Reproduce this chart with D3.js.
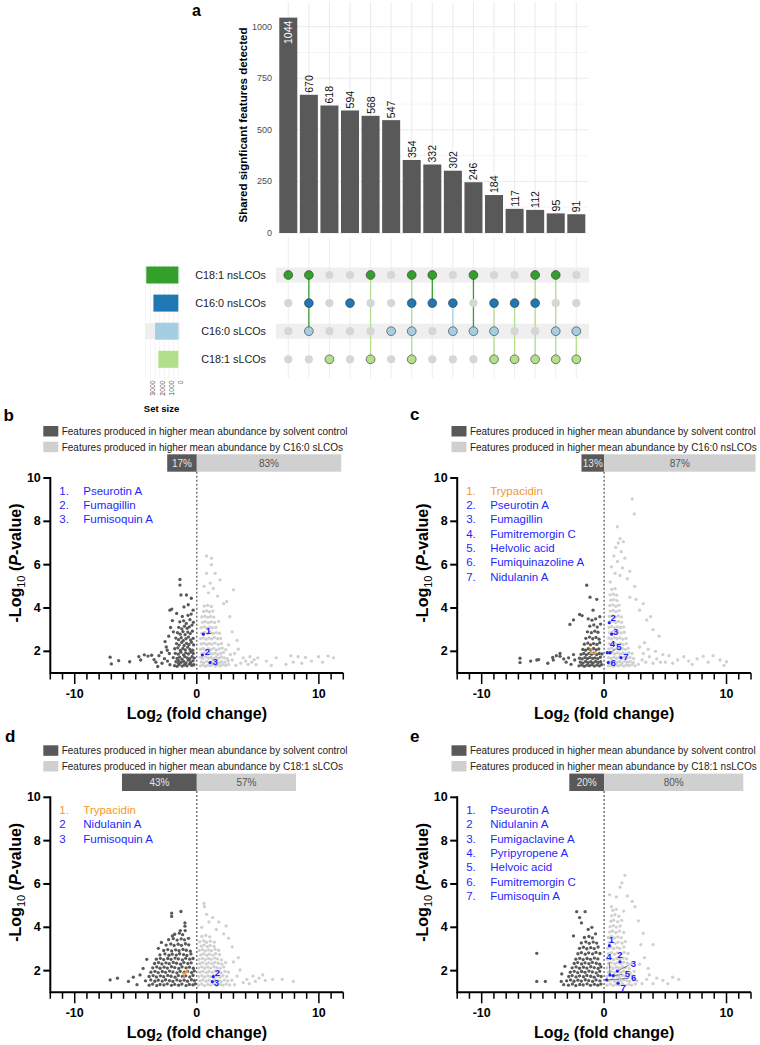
<!DOCTYPE html>
<html><head><meta charset="utf-8">
<script src="https://cdn.jsdelivr.net/npm/d3@7"></script>
<style>body{margin:0;background:#fff;} svg{display:block;font-family:Arial,"Liberation Sans",Helvetica,sans-serif;}</style>
</head><body><svg id="c" width="760" height="1045"></svg>
<script>
// ================= DATA =================
// Panel a (UpSet)
const intersectionSizes = [1044,670,618,594,568,547,354,332,302,246,184,117,112,95,91];
const setNames = ["C18:1 nsLCOs","C16:0 nsLCOs","C16:0 sLCOs","C18:1 sLCOs"];
const intersectionSets = [[0],[0,1,2],[3],[1],[0,3],[2],[0,1,2,3],[0,1],[1,2],[0,2],[1,2,3],[1,3],[0,1,3],[0,2,3],[2,3]];
const barTicks = [0,250,500,750,1000];
const setSizeTicks = [0,1000,2000,3000];

// Volcano panels: percentages
const bPct = [17,83], cPct = [13,87], dPct = [43,57], ePct = [20,80];
const treatments = ["C16:0 sLCOs","C16:0 nsLCOs","C18:1 sLCOs","C18:1 nsLCOs"];
const xTicksMajor = [-10,0,10];
const yTicks = [2,4,6,8,10];

// Annotated compounds: [number label, name, isTrypacidin, log2FC, -log10P]
const bAnnot = [["1.","Pseurotin A",0,0.54,2.79],["2.","Fumagillin",0,0.46,1.83],["3.","Fumisoquin A",0,1.09,1.48]];
const cAnnot = [["1.","Trypacidin",1,-0.74,1.94],["2.","Pseurotin A",0,0.42,3.32],["3.","Fumagillin",0,0.62,2.79],["4.","Fumitremorgin C",0,0.26,1.94],["5.","Helvolic acid",0,0.48,1.94],["6.","Fumiquinazoline A",0,0.34,1.48],["7.","Nidulanin A",0,1.38,1.71]];
const dAnnot = [["1.","Trypacidin",1,-0.83,1.95],["2","Nidulanin A",0,1.35,1.72],["3","Fumisoquin A",0,1.27,1.49]];
const eAnnot = [["1.","Pseurotin A",0,0.43,3.15],["2","Nidulanin A",0,1.3,2.41],["3.","Fumigaclavine A",0,1.08,1.98],["4.","Pyripyropene A",0,0.48,1.8],["5.","Helvoic acid",0,0.75,1.77],["6.","Fumitremorgin C",0,0.21,1.57],["7.","Fumisoquin A",0,1.14,1.42]];

// Feature points [log2FC, -log10P]
const bDark = [[-1.38,5.32],[-1.38,5.06],[-1.3,4.6],[-0.85,4.6],[-0.45,4.45],[-2.2,3.9],[-2.05,3.95],[-1.65,3.75],[-0.7,4.15],[-1.05,4.05],[-0.3,3.9],
[-7.1,1.73],[-7.0,1.42],[-6.4,1.57],[-5.5,1.52],[-4.75,1.76],[-4.6,1.6],[-4.3,1.84],[-4.0,1.78],[-3.7,1.82],[-3.5,1.62],[-3.1,1.8],[-3.35,1.5],[-3.2,1.3],[-2.85,1.45],[-2.65,1.66],[-2.9,1.95],
[-2.5,2.2],[-2.42,2.05],[-2.6,2.45],[-2.3,2.7],[-2.15,3.1],[-2.0,3.42],[-1.92,2.9],[-2.25,1.9],[-2.4,1.55],[-2.2,1.38],
[-1.82,1.34],[-1.61,1.31],[-1.43,1.39],[-1.2,1.32],[-1.02,1.37],[-0.81,1.33],[-0.6,1.41],[-0.41,1.35],[-0.24,1.38],[-1.5,1.44],[-0.95,1.43],[-0.5,1.45],
[-1.71,1.52],[-1.49,1.57],[-1.29,1.49],[-1.08,1.54],[-0.88,1.47],[-0.69,1.59],[-0.52,1.51],[-0.31,1.56],
[-1.93,1.71],[-1.62,1.67],[-1.41,1.73],[-1.21,1.64],[-0.99,1.76],[-0.79,1.7],[-0.58,1.66],[-0.39,1.75],[-0.21,1.69],
[-1.76,1.91],[-1.52,1.87],[-1.31,1.96],[-1.09,1.84],[-0.91,1.93],[-0.69,1.88],[-0.49,1.97],[-0.29,1.9],
[-1.81,2.12],[-1.56,2.16],[-1.34,2.04],[-1.14,2.13],[-0.94,2.07],[-0.74,2.19],[-0.56,2.09],[-0.33,2.05],
[-1.66,2.36],[-1.44,2.29],[-1.24,2.41],[-1.04,2.27],[-0.84,2.37],[-0.64,2.31],[-0.44,2.42],[-0.26,2.3],
[-1.72,2.61],[-1.49,2.54],[-1.28,2.63],[-1.11,2.49],[-0.89,2.58],[-0.68,2.66],[-0.51,2.52],[-0.3,2.6],
[-1.58,2.86],[-1.36,2.79],[-1.13,2.91],[-0.96,2.77],[-0.74,2.89],[-0.54,2.82],[-0.36,2.93],
[-1.48,3.11],[-1.23,3.04],[-1.01,3.16],[-0.79,3.06],[-0.61,3.13],[-0.39,3.21],
[-1.39,3.36],[-1.08,3.41],[-0.86,3.29],[-0.56,3.46],[-0.28,3.34],
[-1.19,3.61],[-0.72,3.66],[-0.46,3.72]];
const bLight = [[0.8,6.4],[1.2,6.3],[1.2,6.0],[0.8,5.6],[1.5,5.6],[1.1,5.15],[3.0,4.84],[1.9,5.3],[2.45,4.3],[2.2,4.2],[0.6,5.0],[1.35,4.9],[0.95,4.7],[1.7,4.55],[2.7,3.6],[3.3,2.5],[2.9,2.9],
[3.6,1.45],[3.8,1.7],[4.0,1.55],[4.2,1.4],[4.35,1.75],[4.5,1.5],[4.7,1.62],[4.85,1.38],[5.0,1.7],[5.7,1.55],[6.5,1.7],[7.7,1.8],[7.9,1.5],[8.3,1.75],[8.6,1.45],[8.9,1.72],[9.97,1.75],[10.3,1.5],[10.75,1.78],[11.2,1.7],[9.4,1.55],[7.3,1.4],[6.1,1.35],
[3.1,1.9],[3.4,2.1],[2.9,1.6],[3.2,1.35],[2.6,2.3],[2.75,1.85],
[0.3,1.33],[0.52,1.37],[0.71,1.31],[0.9,1.36],[1.12,1.34],[1.31,1.39],[1.52,1.32],[1.69,1.37],[1.92,1.33],[2.11,1.38],[2.36,1.35],[2.6,1.4],
[0.36,1.51],[0.56,1.47],[0.79,1.54],[1.01,1.49],[1.21,1.53],[1.44,1.46],[1.66,1.55],[1.86,1.48],[2.04,1.52],[2.31,1.5],[2.58,1.56],
[0.29,1.71],[0.49,1.67],[0.74,1.74],[0.96,1.69],[1.16,1.72],[1.36,1.66],[1.59,1.73],[1.81,1.68],[2.01,1.75],[2.24,1.7],[2.49,1.66],
[0.41,1.89],[0.62,1.93],[0.84,1.87],[1.06,1.94],[1.26,1.88],[1.49,1.92],[1.71,1.86],[1.94,1.91],[2.19,1.95],
[0.31,2.09],[0.51,2.13],[0.72,2.07],[0.94,2.12],[1.16,2.08],[1.39,2.14],[1.61,2.06],[1.84,2.11],[2.09,2.15],[2.38,2.08],
[0.36,2.34],[0.59,2.37],[0.81,2.31],[1.01,2.36],[1.24,2.33],[1.49,2.38],[1.76,2.32],[2.02,2.36],
[0.31,2.59],[0.54,2.62],[0.76,2.56],[0.99,2.61],[1.21,2.57],[1.44,2.63],[1.71,2.58],[1.96,2.6],
[0.41,2.84],[0.66,2.87],[0.89,2.82],[1.11,2.88],[1.34,2.83],[1.59,2.86],[1.86,2.84],
[0.36,3.09],[0.61,3.13],[0.84,3.07],[1.06,3.12],[1.29,3.08],[1.56,3.11],
[0.46,3.34],[0.69,3.37],[0.94,3.32],[1.19,3.36],[1.46,3.33],[1.79,3.38],
[0.41,3.59],[0.66,3.62],[0.91,3.57],[1.14,3.61],[1.39,3.58],
[0.56,3.84],[0.81,3.87],[1.04,3.82],[1.31,3.86],
[0.61,4.09],[0.89,4.12],[1.19,4.07]];
const cDark = [[-1.42,5.05],[-1.15,4.5],[-0.6,4.4],[-2.0,3.7],[-2.79,3.24],[-2.5,3.45],[-1.8,3.65],[-0.9,3.9],[-0.35,3.6],[-1.3,3.5],
[-6.87,1.68],[-6.87,1.48],[-6.0,1.55],[-5.5,1.6],[-5.35,1.62],[-4.6,1.45],[-4.15,1.6],[-4.2,1.72],[-3.9,1.8],[-3.6,1.9],[-3.6,1.77],[-3.3,1.65],[-3.1,1.5],[-2.9,1.7],[-2.7,1.4],[-2.5,1.85],[-2.4,1.6],
[-2.05,1.33],[-1.83,1.37],[-1.62,1.31],[-1.41,1.36],[-1.2,1.34],[-0.99,1.38],[-0.79,1.32],[-0.58,1.37],[-0.38,1.33],[-0.2,1.39],
[-1.94,1.5],[-1.72,1.46],[-1.51,1.53],[-1.31,1.48],[-1.09,1.52],[-0.89,1.47],[-0.69,1.54],[-0.48,1.49],[-0.28,1.52],
[-2.01,1.68],[-1.79,1.65],[-1.57,1.71],[-1.36,1.66],[-1.16,1.72],[-0.94,1.67],[-0.74,1.7],[-0.52,1.66],[-0.31,1.73],
[-1.88,1.86],[-1.66,1.9],[-1.45,1.84],[-1.24,1.91],[-1.03,1.86],[-0.83,1.92],[-0.61,1.85],[-0.4,1.9],[-0.18,1.88],
[-1.74,2.09],[-1.52,2.05],[-1.29,2.12],[-1.08,2.06],[-0.86,2.13],[-0.64,2.07],[-0.43,2.11],
[-1.61,2.33],[-1.33,2.38],[-1.11,2.3],[-0.86,2.36],[-0.59,2.32],[-0.36,2.4],
[-1.49,2.6],[-1.19,2.66],[-0.93,2.58],[-0.66,2.64],[-0.41,2.56],
[-1.36,2.9],[-1.04,2.86],[-0.76,2.93],[-0.5,2.88],
[-1.17,3.16],[-0.84,3.22],[-0.56,3.12],[-0.29,3.26],
[-0.99,3.44],[-0.69,3.5]];
const cLight = [[2.3,9.03],[2.47,8.34],[1.08,7.75],[1.3,7.2],[1.16,7.0],[1.57,7.06],[0.95,6.8],[1.4,6.6],[0.8,6.4],[1.7,6.3],[1.1,6.15],[0.6,5.9],[1.5,5.85],[2.1,5.7],[0.9,5.6],[1.3,5.5],[1.9,5.35],[0.5,5.2],[2.5,5.0],[2.9,3.9],[3.48,3.45],[4.0,3.0],[4.5,2.7],[2.1,4.5],[3.2,4.2],[2.6,4.4],[3.8,3.6],
[5.0,1.5],[5.3,1.8],[5.6,1.45],[6.0,1.6],[6.5,1.75],[6.9,1.55],[7.2,1.4],[8.1,1.77],[8.5,1.5],[8.9,1.8],[9.47,1.6],[10.0,1.52],[9.8,1.35],[7.6,1.65],
[2.8,1.4],[3.1,1.6],[3.4,1.5],[3.7,1.75],[4.0,1.45],[4.3,1.65],[4.6,1.5],[3.2,1.9],[3.6,2.1],[2.9,2.2],[3.3,2.4],[4.2,2.0],[4.8,1.85],
[0.36,1.34],[0.57,1.37],[0.78,1.31],[0.99,1.36],[1.2,1.33],[1.41,1.38],[1.62,1.32],[1.83,1.37],[2.04,1.34],[2.27,1.39],[2.52,1.33],
[0.41,1.52],[0.62,1.48],[0.84,1.54],[1.05,1.49],[1.26,1.53],[1.47,1.47],[1.69,1.55],[1.9,1.5],[2.13,1.53],[2.39,1.48],
[0.37,1.71],[0.59,1.67],[0.8,1.73],[1.01,1.68],[1.23,1.72],[1.44,1.66],[1.66,1.74],[1.88,1.69],[2.11,1.72],[2.4,1.67],
[0.44,1.9],[0.66,1.94],[0.88,1.88],[1.09,1.93],[1.31,1.87],[1.53,1.92],[1.76,1.89],[2.0,1.94],[2.28,1.9],
[0.39,2.11],[0.61,2.15],[0.83,2.08],[1.05,2.13],[1.27,2.07],[1.5,2.12],[1.73,2.09],[1.98,2.14],
[0.42,2.36],[0.65,2.32],[0.87,2.38],[1.1,2.33],[1.33,2.37],[1.57,2.31],[1.82,2.36],
[0.38,2.61],[0.6,2.57],[0.83,2.63],[1.06,2.58],[1.29,2.62],[1.53,2.56],[1.8,2.6],
[0.45,2.86],[0.68,2.9],[0.91,2.84],[1.14,2.89],[1.38,2.85],[1.64,2.88],
[0.41,3.11],[0.64,3.14],[0.87,3.08],[1.1,3.13],[1.34,3.09],[1.6,3.12],
[0.47,3.36],[0.7,3.39],[0.94,3.33],[1.18,3.38],[1.44,3.34],
[0.43,3.61],[0.67,3.64],[0.91,3.58],[1.15,3.63],[1.41,3.59],
[0.5,3.86],[0.74,3.89],[0.98,3.83],[1.24,3.88],
[0.46,4.11],[0.71,4.14],[0.96,4.08],[1.22,4.13],
[0.55,4.36],[0.8,4.39],[1.06,4.34],
[0.49,4.61],[0.76,4.64],[1.02,4.59],
[0.62,4.86],[0.9,4.89]];
const dDark = [[-2.06,4.65],[-2.06,4.5],[-1.3,4.73],[-0.97,4.2],[-0.97,4.05],[-0.95,3.85],[-1.35,3.85],[-4.1,2.52],[-4.65,1.8],[-7.1,1.57],[-6.5,1.65],[-5.6,1.5],[-4.9,1.35],[-3.15,3.03],[-2.0,3.6],[-2.9,3.3],[-5.2,1.7],[-4.4,2.1],
[-3.9,1.33],[-3.62,1.38],[-3.28,1.31],[-3.01,1.36],[-2.69,1.34],[-2.42,1.39],[-2.08,1.32],[-1.81,1.37],[-1.49,1.33],[-1.22,1.38],[-0.88,1.31],[-0.61,1.36],[-0.32,1.34],[-0.12,1.39],
[-4.2,1.53],[-3.77,1.57],[-3.44,1.51],[-3.16,1.56],[-2.83,1.52],[-2.56,1.58],[-2.24,1.54],[-1.96,1.5],[-1.63,1.57],[-1.36,1.53],[-1.04,1.56],[-0.76,1.51],[-0.44,1.58],[-0.19,1.54],
[-3.91,1.73],[-3.58,1.77],[-3.31,1.71],[-2.98,1.76],[-2.71,1.72],[-2.38,1.78],[-2.11,1.74],[-1.78,1.7],[-1.51,1.77],[-1.18,1.73],[-0.91,1.76],[-0.58,1.71],[-0.31,1.78],
[-3.76,1.93],[-3.43,1.97],[-3.16,1.91],[-2.83,1.96],[-2.56,1.92],[-2.23,1.98],[-1.96,1.94],[-1.63,1.9],[-1.36,1.97],[-1.03,1.93],[-0.76,1.96],[-0.43,1.91],[-0.21,1.98],
[-3.61,2.13],[-3.28,2.17],[-3.01,2.11],[-2.68,2.16],[-2.41,2.12],[-2.08,2.18],[-1.81,2.14],[-1.48,2.1],[-1.21,2.17],[-0.88,2.13],[-0.61,2.16],[-0.28,2.11],
[-3.46,2.33],[-3.13,2.37],[-2.86,2.31],[-2.53,2.36],[-2.26,2.32],[-1.93,2.38],[-1.66,2.34],[-1.33,2.3],[-1.06,2.37],[-0.73,2.33],[-0.46,2.36],
[-3.31,2.53],[-2.98,2.57],[-2.71,2.51],[-2.38,2.56],[-2.11,2.52],[-1.78,2.58],[-1.51,2.54],[-1.18,2.5],[-0.91,2.57],[-0.58,2.53],[-0.31,2.56],
[-3.02,2.73],[-2.61,2.77],[-2.28,2.71],[-2.01,2.76],[-1.68,2.72],[-1.41,2.78],[-1.08,2.74],[-0.81,2.7],[-0.48,2.77],
[-2.71,2.93],[-2.38,2.97],[-2.06,2.91],[-1.73,2.96],[-1.46,2.92],[-1.13,2.98],[-0.86,2.94],[-0.53,2.9],
[-2.51,3.18],[-2.13,3.23],[-1.86,3.16],[-1.53,3.22],[-1.26,3.17],[-0.93,3.24],[-0.66,3.19],
[-2.31,3.43],[-1.93,3.48],[-1.61,3.41],[-1.28,3.47],[-1.01,3.42],[-0.68,3.49],
[-1.81,3.68],[-1.43,3.73],[-1.16,3.66]];
const dLight = [[0.59,5.1],[0.62,4.95],[0.8,4.6],[1.0,4.25],[1.8,4.25],[1.6,3.9],[2.4,4.06],[2.9,3.1],[2.6,3.5],[0.4,4.0],[1.3,4.45],[2.2,3.7],
[3.54,2.03],[3.3,1.75],[3.8,1.45],[4.1,1.6],[4.3,1.4],[4.6,1.75],[4.8,1.5],[5.1,1.65],[5.4,1.8],[5.6,1.55],[6.2,1.6],[7.0,1.6],[7.9,1.5],[3.1,1.35],[3.0,2.4],[3.4,2.6],
[0.15,1.33],[0.41,1.38],[0.64,1.31],[0.91,1.36],[1.14,1.34],[1.41,1.39],[1.64,1.32],[1.91,1.37],[2.14,1.33],[2.41,1.38],[2.69,1.34],
[0.26,1.53],[0.49,1.57],[0.76,1.51],[0.99,1.56],[1.26,1.52],[1.49,1.58],[1.76,1.54],[1.99,1.5],[2.26,1.57],[2.54,1.53],[2.86,1.56],
[0.14,1.73],[0.41,1.77],[0.64,1.71],[0.91,1.76],[1.14,1.72],[1.41,1.78],[1.64,1.74],[1.91,1.7],[2.14,1.77],[2.46,1.73],
[0.26,1.93],[0.49,1.97],[0.76,1.91],[0.99,1.96],[1.26,1.92],[1.49,1.98],[1.76,1.94],[1.99,1.9],[2.31,1.97],[2.59,1.93],
[0.14,2.13],[0.41,2.17],[0.64,2.11],[0.91,2.16],[1.14,2.12],[1.41,2.18],[1.64,2.14],[1.91,2.1],[2.21,2.17],
[0.26,2.33],[0.49,2.37],[0.76,2.31],[0.99,2.36],[1.26,2.32],[1.49,2.38],[1.76,2.34],[2.04,2.3],[2.36,2.37],
[0.19,2.53],[0.46,2.57],[0.69,2.51],[0.96,2.56],[1.19,2.52],[1.46,2.58],[1.69,2.54],[2.01,2.5],
[0.31,2.73],[0.54,2.77],[0.81,2.71],[1.04,2.76],[1.31,2.72],[1.54,2.78],[1.86,2.74],
[0.19,2.93],[0.46,2.97],[0.69,2.91],[0.96,2.96],[1.19,2.92],[1.51,2.98],[1.79,2.94],
[0.36,3.13],[0.59,3.18],[0.86,3.11],[1.09,3.16],[1.41,3.12],
[0.24,3.33],[0.56,3.38],[0.79,3.31],[1.11,3.36],[1.44,3.32],
[0.41,3.58],[0.74,3.63],[1.06,3.56]];
const eDark = [[-2.24,4.72],[-1.55,4.72],[-2.0,4.45],[-1.85,4.2],[-1.0,4.0],[-5.5,2.8],[-5.5,1.5],[-4.8,1.5],[-3.46,1.85],[-1.3,3.9],[-0.7,3.7],[-2.5,3.6],[-3.5,1.5],[-3.2,2.2],[-3.3,1.35],
[-2.91,1.33],[-2.59,1.38],[-2.31,1.31],[-1.99,1.36],[-1.71,1.34],[-1.39,1.39],[-1.11,1.32],[-0.79,1.37],[-0.51,1.33],[-0.26,1.38],
[-3.06,1.53],[-2.74,1.57],[-2.46,1.51],[-2.14,1.56],[-1.86,1.52],[-1.54,1.58],[-1.26,1.54],[-0.94,1.5],[-0.66,1.57],[-0.34,1.53],
[-2.89,1.73],[-2.61,1.77],[-2.29,1.71],[-2.01,1.76],[-1.69,1.72],[-1.41,1.78],[-1.09,1.74],[-0.81,1.7],[-0.49,1.77],[-0.24,1.73],
[-2.76,1.93],[-2.44,1.97],[-2.16,1.91],[-1.84,1.96],[-1.56,1.92],[-1.24,1.98],[-0.96,1.94],[-0.64,1.9],[-0.36,1.97],
[-2.61,2.13],[-2.29,2.17],[-2.01,2.11],[-1.69,2.16],[-1.41,2.12],[-1.09,2.18],[-0.81,2.14],[-0.49,2.1],[-0.26,2.17],
[-2.44,2.33],[-2.16,2.37],[-1.84,2.31],[-1.56,2.36],[-1.24,2.32],[-0.96,2.38],[-0.64,2.34],[-0.36,2.3],
[-2.31,2.53],[-1.99,2.57],[-1.71,2.51],[-1.39,2.56],[-1.11,2.52],[-0.79,2.58],[-0.51,2.54],
[-2.14,2.78],[-1.86,2.83],[-1.54,2.76],[-1.26,2.82],[-0.94,2.77],[-0.66,2.84],[-0.34,2.79],
[-2.01,3.03],[-1.69,3.08],[-1.41,3.01],[-1.09,3.06],[-0.81,3.02],[-0.49,3.09],
[-1.86,3.28],[-1.49,3.33],[-1.21,3.26],[-0.89,3.32],[-0.61,3.27],
[-1.61,3.53],[-1.24,3.58],[-0.96,3.51]];
const eLight = [[1.7,6.4],[1.3,5.85],[1.0,5.4],[1.9,5.45],[2.52,4.95],[0.6,4.95],[1.6,4.75],[3.2,3.72],[4.0,3.2],[3.0,3.2],[2.3,5.2],[2.8,4.3],[0.45,5.5],[1.45,6.05],
[3.48,1.6],[3.1,1.4],[3.7,1.8],[4.3,1.65],[4.0,1.4],[4.8,1.55],[5.6,1.7],[6.1,1.6],[5.2,1.4],[2.9,2.3],[3.3,2.6],[3.6,2.1],
[0.24,1.33],[0.51,1.38],[0.74,1.31],[1.01,1.36],[1.24,1.34],[1.51,1.39],[1.74,1.32],[2.01,1.37],[2.24,1.33],[2.56,1.38],
[0.36,1.53],[0.59,1.57],[0.86,1.51],[1.09,1.56],[1.36,1.52],[1.59,1.58],[1.86,1.54],[2.09,1.5],[2.41,1.57],[2.69,1.53],
[0.24,1.73],[0.51,1.77],[0.74,1.71],[1.01,1.76],[1.24,1.72],[1.51,1.78],[1.74,1.74],[2.01,1.7],[2.29,1.77],
[0.36,1.93],[0.59,1.97],[0.86,1.91],[1.09,1.96],[1.36,1.92],[1.59,1.98],[1.86,1.94],[2.14,1.9],[2.46,1.97],
[0.24,2.13],[0.51,2.17],[0.74,2.11],[1.01,2.16],[1.24,2.12],[1.51,2.18],[1.74,2.14],[2.06,2.1],
[0.36,2.33],[0.59,2.37],[0.86,2.31],[1.09,2.36],[1.36,2.32],[1.59,2.38],[1.91,2.34],[2.19,2.3],
[0.29,2.53],[0.56,2.57],[0.79,2.51],[1.06,2.56],[1.29,2.52],[1.56,2.58],[1.84,2.54],
[0.36,2.78],[0.59,2.83],[0.86,2.76],[1.09,2.82],[1.36,2.77],[1.64,2.84],[1.96,2.79],
[0.29,3.03],[0.56,3.08],[0.79,3.01],[1.06,3.06],[1.29,3.02],[1.61,3.09],
[0.41,3.28],[0.64,3.33],[0.91,3.26],[1.14,3.32],[1.46,3.27],[1.74,3.34],
[0.34,3.53],[0.61,3.58],[0.84,3.51],[1.11,3.56],[1.39,3.52],
[0.46,3.78],[0.69,3.83],[0.96,3.76],[1.24,3.82],[1.61,3.77],
[0.49,4.03],[0.76,4.08],[0.99,4.01],[1.31,4.06],
[0.56,4.28],[0.79,4.33],[1.11,4.26],[1.44,4.32],
[0.61,4.53],[0.89,4.58],[1.21,4.51],
[0.71,4.78],[0.99,4.83]];

// ================= LAYOUT / STYLE =================
const svg = d3.select("#c");
const setColors = ["#33a02c","#1f78b4","#a6cee3","#b2df8a"];
const DARK = "#595959", LIGHT = "#d0d0d0", BLUE = "#1f1fff", ORANGE = "#f39a2b";

// ---------- Panel a: UpSet ----------
const setSizes = setNames.map((s,si)=> d3.sum(intersectionSizes.filter((v,i)=>intersectionSets[i].includes(si))));
const xb = d3.scaleBand().domain(d3.range(intersectionSizes.length)).range([278,586.6]).paddingInner(0.125).paddingOuter(0.0625);
const yb = d3.scaleLinear().domain([0,1000]).range([233,26.7]);
const cx = i => xb(i)+xb.bandwidth()/2;
const gA = svg.append("g");
gA.selectAll(".hg").data(d3.range(0,1001,125)).join("line")
  .attr("x1",278).attr("x2",588).attr("y1",d=>yb(d)).attr("y2",d=>yb(d))
  .attr("stroke", d=> d%250===0 ? "#e4e4e4":"#f2f2f2").attr("stroke-width",0.8);
gA.selectAll(".vg").data(d3.range(intersectionSizes.length)).join("line")
  .attr("x1",cx).attr("x2",cx).attr("y1",2).attr("y2",233).attr("stroke","#e4e4e4").attr("stroke-width",0.8);
gA.selectAll(".bar").data(intersectionSizes).join("rect")
  .attr("x",(d,i)=>xb(i)).attr("width",xb.bandwidth()).attr("y",d=>yb(d)).attr("height",d=>yb(0)-yb(d)).attr("fill",DARK);
gA.selectAll(".bl").data(intersectionSizes).join("text")
  .attr("transform",(d,i)=>`translate(${cx(i)},${d>1000? yb(d)+3 : yb(d)-2}) rotate(-90)`)
  .attr("text-anchor",d=>d>1000?"end":"start").attr("dominant-baseline","central")
  .attr("font-size",10.5).attr("fill",d=>d>1000?"#fff":"#111").text(d=>d);
gA.selectAll(".yt").data(barTicks).join("text")
  .attr("x",272).attr("y",d=>yb(d)).attr("text-anchor","end").attr("dominant-baseline","central")
  .attr("font-size",9).attr("fill","#4d4d4d").text(d=>d);
gA.append("text").attr("transform","translate(243,125) rotate(-90)").attr("text-anchor","middle")
  .attr("dominant-baseline","central").attr("font-weight","bold").attr("font-size",11.5).text("Shared signficant features detected");
gA.append("text").attr("x",192).attr("y",16).attr("font-weight","bold").attr("font-size",16).text("a");

// Matrix
const rowY = d3.scalePoint().domain(d3.range(setNames.length)).range([275,359.3]);
const sx = d3.scaleLinear().domain([0,3500]).range([178.3,145.6]);
[0,2].forEach(r=>{
  gA.append("rect").attr("x",276).attr("width",313).attr("y",rowY(r)-7.5).attr("height",15).attr("fill","#efefef");
  gA.append("rect").attr("x",145).attr("width",35).attr("y",rowY(r)-8).attr("height",16).attr("fill","#efefef");
});
gA.selectAll(".mg").data(d3.range(intersectionSizes.length)).join("line")
  .attr("x1",cx).attr("x2",cx).attr("y1",237).attr("y2",378).attr("stroke","#e8e8e8").attr("stroke-width",0.8);
gA.selectAll(".sg").data(d3.range(0,3501,500)).join("line")
  .attr("x1",d=>sx(d)).attr("x2",d=>sx(d)).attr("y1",262).attr("y2",378).attr("stroke","#ececec").attr("stroke-width",0.6);
gA.selectAll(".sbar").data(setSizes).join("rect")
  .attr("x",d=>sx(d)).attr("width",d=>sx(0)-sx(d)).attr("y",(d,i)=>rowY(i)-8.5).attr("height",17).attr("fill",(d,i)=>setColors[i]);
gA.selectAll(".sl").data(setNames).join("text")
  .attr("x",266).attr("y",(d,i)=>rowY(i)).attr("text-anchor","end").attr("dominant-baseline","central")
  .attr("font-size",10.8).attr("fill","#222").text(d=>d);
gA.selectAll(".st").data(setSizeTicks).join("text")
  .attr("transform",d=>`translate(${sx(d)+2.5},380.5) rotate(-90)`).attr("text-anchor","end").attr("dominant-baseline","central")
  .attr("font-size",6.8).attr("fill","#4d4d4d").text(d=>d);
gA.append("text").attr("x",161.5).attr("y",412).attr("text-anchor","middle").attr("font-weight","bold").attr("font-size",9.5).text("Set size");
// connecting lines
intersectionSets.forEach((sets,i)=>{
  if(sets.length>1){
    const col = sets.includes(3) ? setColors[3] : (sets.includes(0) ? setColors[0] : setColors[2]);
    gA.append("line").attr("x1",cx(i)).attr("x2",cx(i)).attr("y1",rowY(d3.min(sets))).attr("y2",rowY(d3.max(sets)))
      .attr("stroke",col).attr("stroke-width",1.3);
  }
});
intersectionSets.forEach((sets,i)=>{
  setNames.forEach((s,r)=>{
    const on = sets.includes(r);
    gA.append("circle").attr("cx",cx(i)).attr("cy",rowY(r)).attr("r",on?4.4:4.1)
      .attr("fill",on?setColors[r]:"#d6d6d6").attr("stroke",on?"#333":"none").attr("stroke-width",0.6);
  });
});

// ---------- Volcano panels ----------
const legendText0 = "Features produced in higher mean abundance by solvent control";
function volcano(cfg){
  const g = svg.append("g");
  const x = d3.scaleLinear().domain([-12,12]).range([cfg.x0,cfg.x1]);
  const y = d3.scaleLinear().domain([1,10]).range([cfg.yTop+195,cfg.yTop]);
  const yB = y(1);
  g.append("text").attr("x",cfg.lx).attr("y",cfg.ly).attr("font-weight","bold").attr("font-size",17).text(cfg.letter);
  const lt = cfg.yTop-52;
  [[DARK,legendText0],[LIGHT,"Features produced in higher mean abundance by "+cfg.treatment]].forEach((d,k)=>{
    g.append("rect").attr("x",cfg.legX).attr("y",lt+k*15.7).attr("width",15).attr("height",10.5).attr("fill",d[0]);
    g.append("text").attr("x",cfg.legX+18.4).attr("y",lt+5.3+k*15.7).attr("dominant-baseline","central")
      .attr("font-size",10).attr("fill","#222").text(d[1]);
  });
  // percent bar
  const W = 174, pb = cfg.yTop-23.7, ph = 17.4;
  const wDark = cfg.pct[0]/100*W, xStart = x(0)-wDark;
  g.append("rect").attr("x",xStart).attr("y",pb).attr("width",wDark).attr("height",ph).attr("fill",DARK);
  g.append("rect").attr("x",x(0)).attr("y",pb).attr("width",W-wDark).attr("height",ph).attr("fill",LIGHT);
  g.append("text").attr("x",xStart+wDark/2).attr("y",pb+ph/2).attr("text-anchor","middle").attr("dominant-baseline","central")
    .attr("font-size",10).attr("fill","#e6e6e6").text(cfg.pct[0]+"%");
  g.append("text").attr("x",x(0)+(W-wDark)/2).attr("y",pb+ph/2).attr("text-anchor","middle").attr("dominant-baseline","central")
    .attr("font-size",10).attr("fill","#555").text(cfg.pct[1]+"%");
  // zero line
  g.append("line").attr("x1",x(0)).attr("x2",x(0)).attr("y1",pb+ph).attr("y2",yB)
    .attr("stroke","#555").attr("stroke-width",1.2).attr("stroke-dasharray","2,2");
  // points
  g.selectAll(".pl").data(cfg.light).join("circle").attr("cx",d=>x(d[0])).attr("cy",d=>y(d[1])).attr("r",1.65).attr("fill",LIGHT);
  g.selectAll(".pd").data(cfg.dark).join("circle").attr("cx",d=>x(d[0])).attr("cy",d=>y(d[1])).attr("r",1.65).attr("fill",DARK);
  // annotations
  cfg.annot.forEach((a,k)=>{
    const col = a[2]?ORANGE:BLUE, px=x(a[3]), py=y(a[4]), off=cfg.offs[k];
    if(off[2]){
      const lx = px+off[0], ly = py+off[1];
      const dx = lx-px, dy = ly-py, len = Math.hypot(dx,dy);
      g.append("line").attr("x1",px).attr("y1",py).attr("x2",lx-dx/len*5).attr("y2",ly-dy/len*5).attr("stroke","#333").attr("stroke-width",0.6);
    }
    g.append("circle").attr("cx",px).attr("cy",py).attr("r",1.6).attr("fill",col);
    g.append("text").attr("x",px+off[0]).attr("y",py+off[1]).attr("text-anchor","middle").attr("dominant-baseline","central")
      .attr("font-size",9.5).attr("font-weight","bold").attr("fill",col).text(a[0].replace(".",""));
    // list entry
    const ly = cfg.yTop+12.7+k*14.3;
    g.append("text").attr("x",cfg.x0+9).attr("y",ly).attr("dominant-baseline","central").attr("font-size",11.5).attr("fill",col).text(a[0]);
    g.append("text").attr("x",cfg.x0+33).attr("y",ly).attr("dominant-baseline","central").attr("font-size",11.5).attr("fill",col).text(a[1]);
  });
  // axes
  g.append("line").attr("x1",cfg.x0).attr("x2",cfg.x1).attr("y1",yB).attr("y2",yB).attr("stroke","#000").attr("stroke-width",2);
  g.append("line").attr("x1",cfg.x0).attr("x2",cfg.x0).attr("y1",cfg.yTop-1).attr("y2",yB+1).attr("stroke","#000").attr("stroke-width",2);
  g.selectAll(".xt").data(d3.range(-12,13)).join("line")
    .attr("x1",d=>x(d)).attr("x2",d=>x(d)).attr("y1",yB).attr("y2",d=>yB+(d%10===0?11:6.5)).attr("stroke","#000").attr("stroke-width",1.5);
  g.selectAll(".xl").data(xTicksMajor).join("text").attr("x",d=>x(d)).attr("y",yB+20.5).attr("text-anchor","middle")
    .attr("dominant-baseline","central").attr("font-weight","bold").attr("font-size",12.5).text(d=>d<0?"-"+Math.abs(d):d);
  g.selectAll(".yt").data(yTicks).join("line").attr("x1",cfg.x0-7).attr("x2",cfg.x0).attr("y1",d=>y(d)).attr("y2",d=>y(d))
    .attr("stroke","#000").attr("stroke-width",2);
  g.selectAll(".yl").data(yTicks).join("text").attr("x",cfg.x0-9.5).attr("y",d=>y(d)).attr("text-anchor","end")
    .attr("dominant-baseline","central").attr("font-weight","bold").attr("font-size",12.5).text(d=>d);
  // titles
  const xt = g.append("text").attr("x",(cfg.x0+cfg.x1)/2).attr("y",yB+45.5).attr("text-anchor","middle").attr("font-weight","bold").attr("font-size",16);
  xt.append("tspan").text("Log");
  xt.append("tspan").attr("dy",3.5).attr("font-size",11).text("2");
  xt.append("tspan").attr("dy",-3.5).text(" (fold change)");
  const yt = g.append("text").attr("transform",`translate(${cfg.x0-35},${cfg.yTop+85}) rotate(-90)`).attr("text-anchor","middle")
    .attr("font-weight","bold").attr("font-size",16).attr("dy","0.35em");
  yt.append("tspan").text("-Log");
  yt.append("tspan").attr("dy",4).attr("font-size",11).attr("font-weight","normal").text("10");
  yt.append("tspan").attr("dy",-4).text(" (");
  yt.append("tspan").attr("font-style","italic").text("P");
  yt.append("tspan").text("-value)");
}

volcano({letter:"b",lx:3.5,ly:420.5,x0:50.3,x1:343.3,yTop:478,legX:43.3,treatment:treatments[0],pct:bPct,dark:bDark,light:bLight,annot:bAnnot,
  offs:[[5,-4],[5,-4],[5,-1]]});
volcano({letter:"c",lx:410,ly:419.5,x0:457.2,x1:751,yTop:478,legX:451.5,treatment:treatments[1],pct:cPct,dark:cDark,light:cLight,annot:cAnnot,
  offs:[[-4,-2],[4,-5],[4,-3],[5,-9],[9,-6,1],[5,0],[5,-1]]});
volcano({letter:"d",lx:5,ly:742,x0:50.3,x1:343.3,yTop:797.3,legX:43.3,treatment:treatments[2],pct:dPct,dark:dDark,light:dLight,annot:dAnnot,
  offs:[[-3,3],[4,-4],[4,1]]});
volcano({letter:"e",lx:410,ly:742,x0:457.2,x1:751,yTop:797.3,legX:451.5,treatment:treatments[3],pct:ePct,dark:eDark,light:eLight,annot:eAnnot,
  offs:[[2,-6],[0,-7],[16,-8,1],[-1,-18,1],[14,-2,1],[27,-2,1],[5,4]]});
</script>
</body></html>
